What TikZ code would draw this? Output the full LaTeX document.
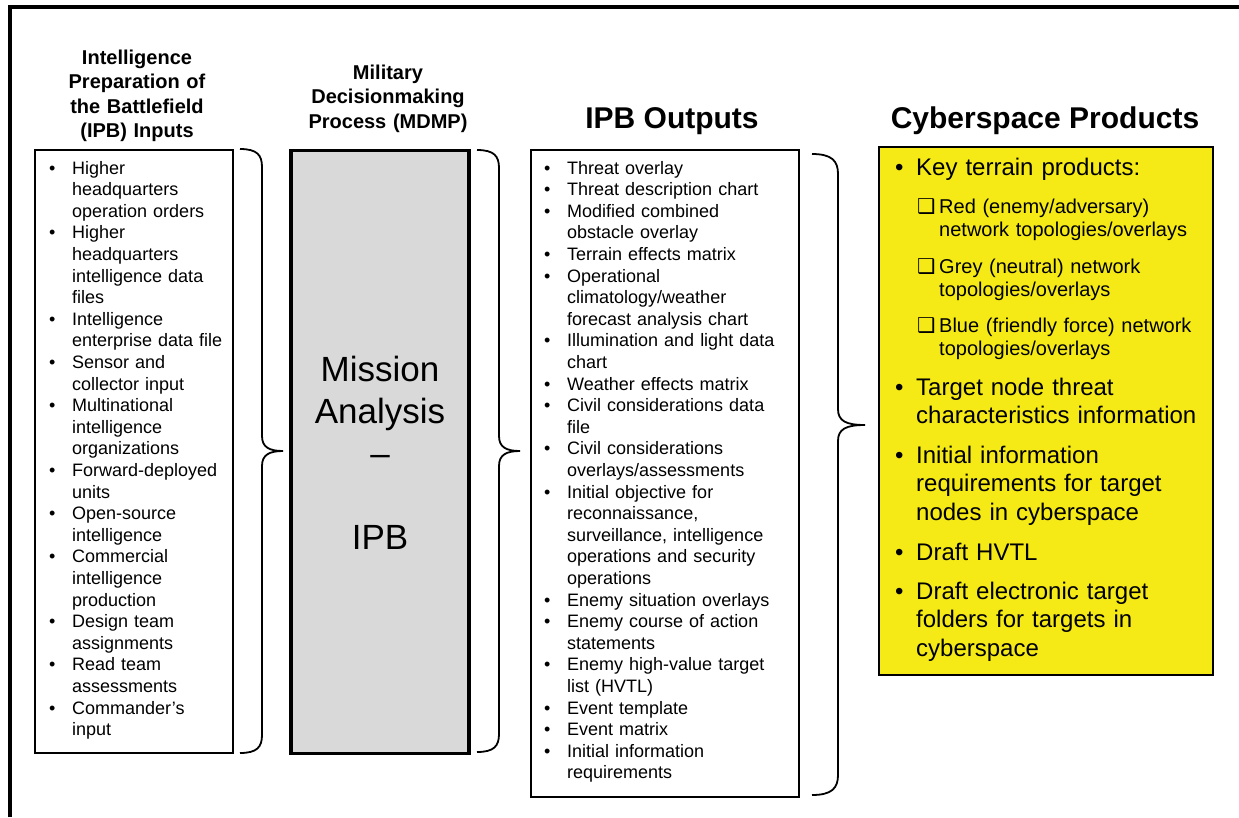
\documentclass[tikz,border=0pt]{standalone}
\usepackage{fontspec}
\setmainfont{Liberation Sans}
\newfontfamily\symfont{DejaVu Sans}
\definecolor{mdmpgrey}{RGB}{217,217,217}
\definecolor{cyberyellow}{RGB}{245,234,22}
% list helpers: each item is one paragraph with a hanging indent
\newcommand\bitem[1]{\noindent\hangindent=23pt\hangafter=1\makebox[23pt][l]{\textbullet}#1\par}
\newcommand\mainbul[1]{\noindent\hangindent=21pt\hangafter=1\makebox[21pt][l]{\textbullet}#1\par}
\newcommand\subbox[1]{\noindent\hangindent=22pt\hangafter=1\makebox[22pt][l]{\symfont\fontsize{20.5}{20}\selectfont\raisebox{-0.5pt}{❑}}#1\par}
\begin{document}
\begin{tikzpicture}[x=1pt,y=-1pt,
  frameline/.style={line width=3.2pt},
  listbox/.style={draw, line width=1.6pt, fill=white, inner sep=0},
  mdmpbox/.style={draw, line width=3.6pt, fill=mdmpgrey, inner sep=0},
  cyberbox/.style={draw, line width=1.8pt, fill=cyberyellow, inner sep=0},
  bracepath/.style={line width=1.8pt},
  head/.style={font=\bfseries\fontsize{20}{24.5}\selectfont, text width=240pt, align=center, inner sep=0, anchor=base},
  bighead/.style={font=\bfseries\fontsize{30}{36}\selectfont, inner sep=0, anchor=base},
  listtext/.style={font=\fontsize{18}{21.6}\selectfont, text width=260pt, align=left, inner sep=0, anchor=base west},
  mission/.style={font=\fontsize{35}{42}\selectfont, text width=200pt, align=center, inner sep=0, anchor=base},
  cyitem/.style={font=\fontsize{24}{28.6}\selectfont, text width=320pt, align=left, inner sep=0, anchor=base west},
  cysub/.style={font=\fontsize{20}{23.8}\selectfont, text width=300pt, align=left, inner sep=0, anchor=base west}]
\useasboundingbox (0,0) rectangle (1239,817);
\fill[white] (0,0) rectangle (1239,817);

% outer frame (top and left edges)
\draw[frameline] (10,817) -- (10,7) -- (1239,7);

% column headings
\node[head] (hin) at (137,64) {Intelligence\\Preparation of\\the Battlefield\\(IPB) Inputs};
\node[head, text width=220pt] (hmdmp) at (388,79) {Military\\Decisionmaking\\Process (MDMP)};
\node[bighead] (hout) at (672,128) {IPB Outputs};
\node[bighead] (hcyber) at (1045,128) {Cyberspace Products};

% boxes
\node[listbox, minimum width=198pt, minimum height=603pt] (inputs) at (134,451.5) {};
\node[mdmpbox, minimum width=178.5pt, minimum height=603pt] (mdmp) at (380,452) {};
\node[listbox, minimum width=268pt, minimum height=647pt] (outputs) at (665,473.5) {};
\node[cyberbox, minimum width=334pt, minimum height=528pt] (cyber) at (1046,411) {};

% braces
\draw[bracepath] (240,149) .. controls (257,149) and (262,155) .. (262,167)
  -- (262,436) .. controls (262,447) and (269,451) .. (283,451)
  .. controls (269,451) and (262,455) .. (262,466)
  -- (262,735) .. controls (262,747) and (257,753) .. (240,753);
\draw[bracepath] (477,150) .. controls (494,150) and (499,156) .. (499,168)
  -- (499,436) .. controls (499,447) and (506,451) .. (520,451)
  .. controls (506,451) and (499,455) .. (499,466)
  -- (499,734) .. controls (499,746) and (494,752) .. (477,752);
\draw[bracepath] (812,154) .. controls (832,154) and (838,161) .. (838,174)
  -- (838,409) .. controls (838,421) and (846,425) .. (865,425)
  .. controls (846,425) and (838,429) .. (838,441)
  -- (838,775) .. controls (838,788) and (832,795) .. (812,795);

% IPB inputs
\node[listtext] (inlist) at (49,174) {%
\bitem{Higher\newline headquarters\newline operation orders}%
\bitem{Higher\newline headquarters\newline intelligence data\newline files}%
\bitem{Intelligence\newline enterprise data file}%
\bitem{Sensor and\newline collector input}%
\bitem{Multinational\newline intelligence\newline organizations}%
\bitem{Forward-deployed\newline units}%
\bitem{Open-source\newline intelligence}%
\bitem{Commercial\newline intelligence\newline production}%
\bitem{Design team\newline assignments}%
\bitem{Read team\newline assessments}%
\bitem{Commander’s\newline input}};

% MDMP step
\node[mission] (mtext) at (380,381) {Mission\\Analysis\\–\\[42pt]IPB};

% IPB outputs
\node[listtext] (outlist) at (544,174) {%
\bitem{Threat overlay}%
\bitem{Threat description chart}%
\bitem{Modified combined\newline obstacle overlay}%
\bitem{Terrain effects matrix}%
\bitem{Operational\newline climatology/weather\newline forecast analysis chart}%
\bitem{Illumination and light data\newline chart}%
\bitem{Weather effects matrix}%
\bitem{Civil considerations data\newline file}%
\bitem{Civil considerations\newline overlays/assessments}%
\bitem{Initial objective for\newline reconnaissance,\newline surveillance, intelligence\newline operations and security\newline operations}%
\bitem{Enemy situation overlays}%
\bitem{Enemy course of action\newline statements}%
\bitem{Enemy high-value target\newline list (HVTL)}%
\bitem{Event template}%
\bitem{Event matrix}%
\bitem{Initial information\newline requirements}};

% cyberspace products
\node[cyitem] (key) at (895,175) {\mainbul{Key terrain products:}};
\node[cysub] (red) at (917,213) {\subbox{Red (enemy/adversary)\newline network topologies/overlays}};
\node[cysub] (grey) at (917,273) {\subbox{Grey (neutral) network\newline topologies/overlays}};
\node[cysub] (blue) at (917,332) {\subbox{Blue (friendly force) network\newline topologies/overlays}};
\node[cyitem] (target) at (895,395) {\mainbul{Target node threat\newline characteristics information}};
\node[cyitem] (initial) at (895,463) {\mainbul{Initial information\newline requirements for target\newline nodes in cyberspace}};
\node[cyitem] (hvtl) at (895,560) {\mainbul{Draft HVTL}};
\node[cyitem] (folders) at (895,599) {\mainbul{Draft electronic target\newline folders for targets in\newline cyberspace}};
\end{tikzpicture}
\end{document}
